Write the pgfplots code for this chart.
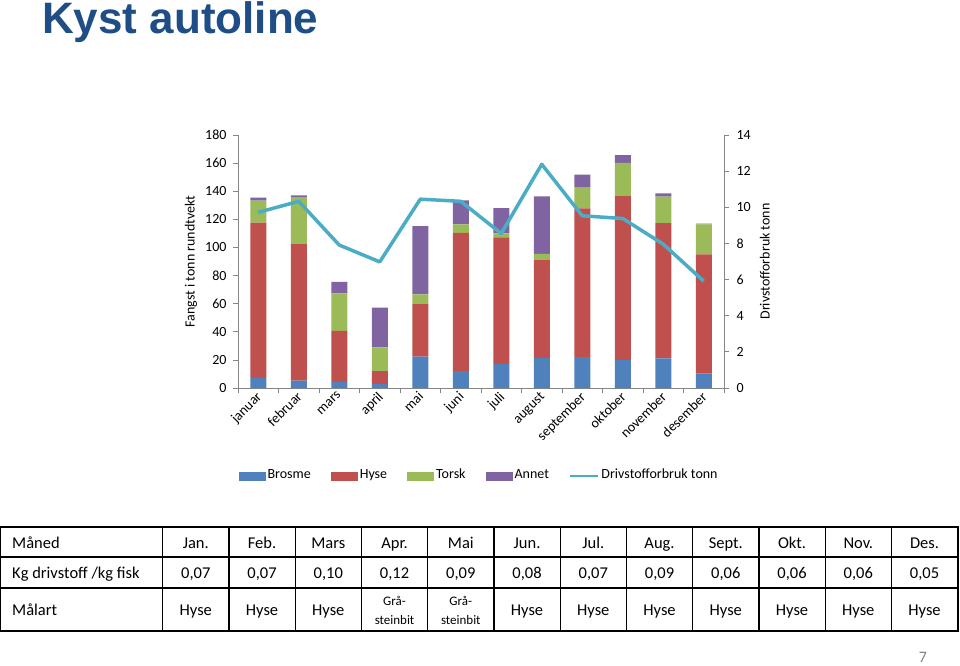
\documentclass[border=0pt]{standalone}
\usepackage{pgfplots}
\pgfplotsset{compat=1.18}
\usepackage{fontspec}
\setmainfont{Carlito}
\newfontfamily\titlefont{Liberation Sans}

\definecolor{brosme}{HTML}{4F81BD}
\definecolor{hyse}{HTML}{C0504D}
\definecolor{torsk}{HTML}{9BBB59}
\definecolor{annet}{HTML}{8064A2}
\definecolor{drivstoff}{HTML}{4BACC6}
\definecolor{axisgray}{HTML}{868686}
\definecolor{titleblue}{HTML}{1F4E87}

\pgfplotsset{
  barlegend/.style={legend image code/.code={\fill[##1,draw=none] (0pt,-4.5pt) rectangle (27pt,4.5pt);}},
  linelegend/.style={legend image code/.code={\draw[##1] (0pt,0pt) -- (28pt,0pt);}},
  basestyle/.style={
    scale only axis, width=486pt, height=253pt,
    at={(238pt,-388pt)}, anchor=south west,
    xmin=-0.5, xmax=11.5,
    axis line style={axisgray, line width=0.8pt},
    tick style={axisgray, line width=0.8pt},
    tick align=outside, major tick length=5pt,
    tick label style={font=\fontsize{14}{16}\selectfont},
    /pgf/number format/assume math mode=true,
  },
}

\begin{document}
\begin{tikzpicture}
\useasboundingbox (0pt,0pt) rectangle (960pt,-665pt);

% title
\node[anchor=base west, inner sep=0pt, text=titleblue,
      font=\titlefont\bfseries\fontsize{44}{44}\selectfont] at (42pt,-33.5pt) {Kyst autoline};

% fangst (stacked bars, left axis)
\begin{axis}[basestyle,
  ybar stacked, bar width=16pt,
  ymin=0, ymax=180, ytick={0,20,...,180},
  yticklabel style={xshift=-3pt},
  axis y line*=left, axis x line*=bottom,
  xtick={-0.5,0.5,...,11.5}, xticklabels={},
  extra x ticks={0,1,2,3,4,5,6,7,8,9,10,11},
  extra x tick labels={januar,februar,mars,april,mai,juni,juli,august,september,oktober,november,desember},
  extra x tick style={grid=none, major tick length=0pt,
    tick label style={rotate=45, anchor=north east, xshift=-0.5pt, yshift=3.5pt, font=\fontsize{14}{16}\selectfont}},
  ylabel={Fangst i tonn rundtvekt},
  every axis y label/.style={at={(axis description cs:-0.097,0.5)}, rotate=90, anchor=center,
    font=\fontsize{14}{16}\selectfont},
  legend style={at={(0.496,-0.348)}, anchor=center, draw=none, legend columns=-1,
    font=\fontsize{14}{16}\selectfont,
    nodes={text height=1.6ex, text depth=0.4ex},
    /tikz/every even column/.append style={column sep=18pt}},
]
\addplot[fill=brosme, draw=none, barlegend] coordinates {
  (0,7.1) (1,5.2) (2,4.3) (3,2.9) (4,22.3) (5,12.1)
  (6,17.1) (7,21.4) (8,21.9) (9,20.0) (10,21.1) (11,10.2)};
\addlegendentry{Brosme}
\addplot[fill=hyse, draw=none, barlegend] coordinates {
  (0,110.5) (1,97.6) (2,36.3) (3,9.2) (4,37.3) (5,98.3)
  (6,90.0) (7,69.6) (8,105.9) (9,116.6) (10,96.2) (11,84.8)};
\addlegendentry{Hyse}
\addplot[fill=torsk, draw=none, barlegend] coordinates {
  (0,15.7) (1,32.6) (2,26.8) (3,16.9) (4,7.1) (5,6.0)
  (6,2.9) (7,4.5) (8,14.7) (9,23.5) (10,18.8) (11,21.4)};
\addlegendentry{Torsk}
\addplot[fill=annet, draw=none, barlegend] coordinates {
  (0,2.2) (1,1.6) (2,8.1) (3,28.2) (4,48.5) (5,17.1)
  (6,18.0) (7,40.8) (8,9.3) (9,5.5) (10,2.4) (11,0.5)};
\addlegendentry{Annet}
\addlegendimage{linelegend, drivstoff, line width=2.5pt}
\addlegendentry{Drivstofforbruk tonn}
\end{axis}

% drivstoff (line, right axis)
\begin{axis}[basestyle,
  ymin=0, ymax=14, ytick={0,2,...,14},
  yticklabel style={xshift=4pt},
  axis y line*=right, axis x line=none,
  ylabel={Drivstofforbruk tonn},
  every axis y label/.style={at={(axis description cs:1.084,0.5)}, rotate=90, anchor=center,
    font=\fontsize{14}{16}\selectfont},
]
\addplot[drivstoff, line width=3.5pt, line join=round, mark=none] coordinates {
  (0,9.72) (1,10.33) (2,7.91) (3,6.98) (4,10.45) (5,10.33)
  (6,8.55) (7,12.38) (8,9.53) (9,9.38) (10,7.96) (11,5.91)};
\end{axis}

% table
\begin{scope}[x=1pt, y=-1pt]
  \draw[line width=1.4pt] (0.7,527) rectangle (958,631);
  \draw[line width=1.4pt] (0,557) -- (958,557);
  \draw[line width=1.4pt] (0,588) -- (958,588);
  \foreach \k in {0,...,11} {
    \draw[line width=1.4pt] ({162.7+66.25*\k},527) -- ({162.7+66.25*\k},631);
  }
  \begin{scope}[every node/.style={font=\fontsize{16.5}{18}\selectfont, inner sep=0pt, anchor=base}]
    \node[anchor=base west] at (12,548) {Måned};
    \node[anchor=base west] at (12,578.5) {Kg drivstoff /kg fisk};
    \node[anchor=base west] at (12,615.5) {Målart};
    \foreach \m [count=\i from 0] in {Jan.,Feb.,Mars,Apr.,Mai,Jun.,Jul.,Aug.,Sept.,Okt.,Nov.,Des.} {
      \node at ({162.7+66.25*\i+33.1},548) {\m};
    }
    \foreach \v [count=\i from 0] in {{0,07},{0,07},{0,10},{0,12},{0,09},{0,08},{0,07},{0,09},{0,06},{0,06},{0,06},{0,05}} {
      \node at ({162.7+66.25*\i+33.1},578.5) {\v};
    }
    \foreach \i in {0,1,2,5,6,7,8,9,10,11} {
      \node at ({162.7+66.25*\i+33.1},615.5) {Hyse};
    }
  \end{scope}
  \foreach \i in {3,4} {
    \node[anchor=base, inner sep=0pt, font=\fontsize{13}{13}\selectfont] at ({162.7+66.25*\i+33.1},605) {Grå-};
    \node[anchor=base, inner sep=0pt, font=\fontsize{13}{13}\selectfont] at ({162.7+66.25*\i+33.1},624) {steinbit};
  }
  \node[text=gray, font=\fontsize{16}{18}\selectfont] at (923,657) {7};
\end{scope}
\end{tikzpicture}
\end{document}
